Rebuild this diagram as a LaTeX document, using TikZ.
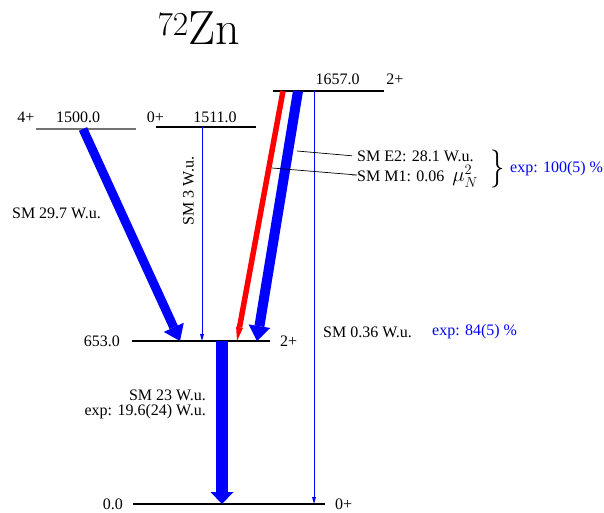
\documentclass[tikz,border=0pt]{standalone}
\usepackage{fontspec}
\newfontfamily\timesfont{Liberation Serif}
\usetikzlibrary{arrows.meta}

\begin{document}
\begin{tikzpicture}[
  x=1pt, y=-1pt,
  font=\timesfont\fontsize{16pt}{15pt}\selectfont,
  level/.style={line width=1.2pt, draw=#1},
  level/.default=black,
  lab/.style={inner sep=0pt},
  expt/.style={lab, text=blue},
  strong/.style={draw=blue, line width=#1,
                 -{Triangle[length=15pt, width=22pt, line width=0pt]}},
  weak/.style={draw=blue, line width=0.8pt,
               -{Triangle[length=7pt, width=4pt, line width=0pt]}},
  mone/.style={draw=red, line width=5.5pt,
               -{Triangle[length=14pt, width=7pt, line width=0pt]}},
  lead/.style={draw=black, line width=0.7pt},
]
\useasboundingbox (0,0) rectangle (604,513);

% ---------- Title ----------
\node[lab, anchor=base, font=\rmfamily\fontsize{48pt}{52pt}\selectfont] (title)
  at (199,45) {\textsuperscript{72}Zn};

% ---------- Levels ----------
\coordinate (lv1500) at (36,129);
\coordinate (lv1511) at (156,127);
\coordinate (lv1657) at (273,91);
\coordinate (lv653)  at (132,341);
\coordinate (lv0)    at (133,504);

\draw[level=black!55] (lv1500) -- ++(100,0);
\draw[level] (lv1511) -- ++(100,0);
\draw[level] (lv1657) -- ++(111,0);
\draw[level] (lv653)  -- ++(138,0);
\draw[level] (lv0)    -- ++(192,0);

\node[lab, anchor=base] (j1500) at (26,123)  {4+};
\node[lab, anchor=base] (e1500) at (78,123)  {1500.0};
\node[lab, anchor=base] (j1511) at (155.5,123) {0+};
\node[lab, anchor=base] (e1511) at (215,123) {1511.0};
\node[lab, anchor=base] (e1657) at (337.5,85) {1657.0};
\node[lab, anchor=base] (j1657) at (395,85)  {2+};
\node[lab, anchor=base east] (e653) at (120,346) {653.0};
\node[lab, anchor=base west] (j653) at (280,346) {2+};
\node[lab, anchor=base east] (e0)   at (123,509) {0.0};
\node[lab, anchor=base west] (j0)   at (335,509) {0+};

% ---------- Transitions ----------
\coordinate (t1500)  at (83,129);   \coordinate (f1500)  at (180,341);
\coordinate (t1511)  at (202,127);  \coordinate (f1511)  at (202,341);
\coordinate (t1657r) at (283,91);   \coordinate (f1657r) at (237,341);
\coordinate (t1657b) at (298,91);   \coordinate (f1657b) at (257,341);
\coordinate (t1657g) at (314,91);   \coordinate (f1657g) at (314,504);
\coordinate (t653)   at (222,341);  \coordinate (f653)   at (222,504);

\draw[strong=9pt]  (t1500)  -- (f1500);
\draw[weak]        (t1511)  -- (f1511);
\draw[mone]        (t1657r) -- (f1657r);
\draw[strong=10pt] (t1657b) -- (f1657b);
\draw[weak]        (t1657g) -- (f1657g);
\draw[strong=12pt, -{Triangle[length=12pt, width=23pt, line width=0pt]}]
  (t653) -- (f653);

% ---------- Labels ----------
\node[lab, anchor=base] (b1500) at (56.5,218) {SM 29.7 W.u.};
\node[lab, rotate=90] (b1511) at (188.5,191) {SM 3 W.u.};
\node[lab, anchor=base west] (be2) at (357,161) {SM E2: 28.1 W.u.};
\node[lab, anchor=base west] (bm1) at (357,182)
  {SM M1: 0.06~~{\fontsize{20pt}{20pt}\selectfont$\mu_N^2$}};
\coordinate (tape2) at (297,151);
\coordinate (tapm1) at (272,168);
\draw[lead] (tape2) -- ([xshift=-5pt]be2.west);
\draw[lead] (tapm1) -- (bm1.west |- 0,175) -- ++(-5pt,0);
\node[lab, xscale=0.75, font=\rmfamily\fontsize{38pt}{38pt}\selectfont]
  (brace) at (498,168.5) {\}};
\node[expt, anchor=base west] (x1657) at (510,172) {exp: 100(5) \%};

\node[lab, anchor=base west] (b1657) at (323,337) {SM 0.36 W.u.};
\node[expt, anchor=base west] (x1657g) at (432,335) {exp: 84(5) \%};

\node[lab, align=right, anchor=base east] (b653) at (206,415)
  {SM 23 W.u.\\exp: 19.6(24) W.u.};

\end{tikzpicture}
\end{document}
